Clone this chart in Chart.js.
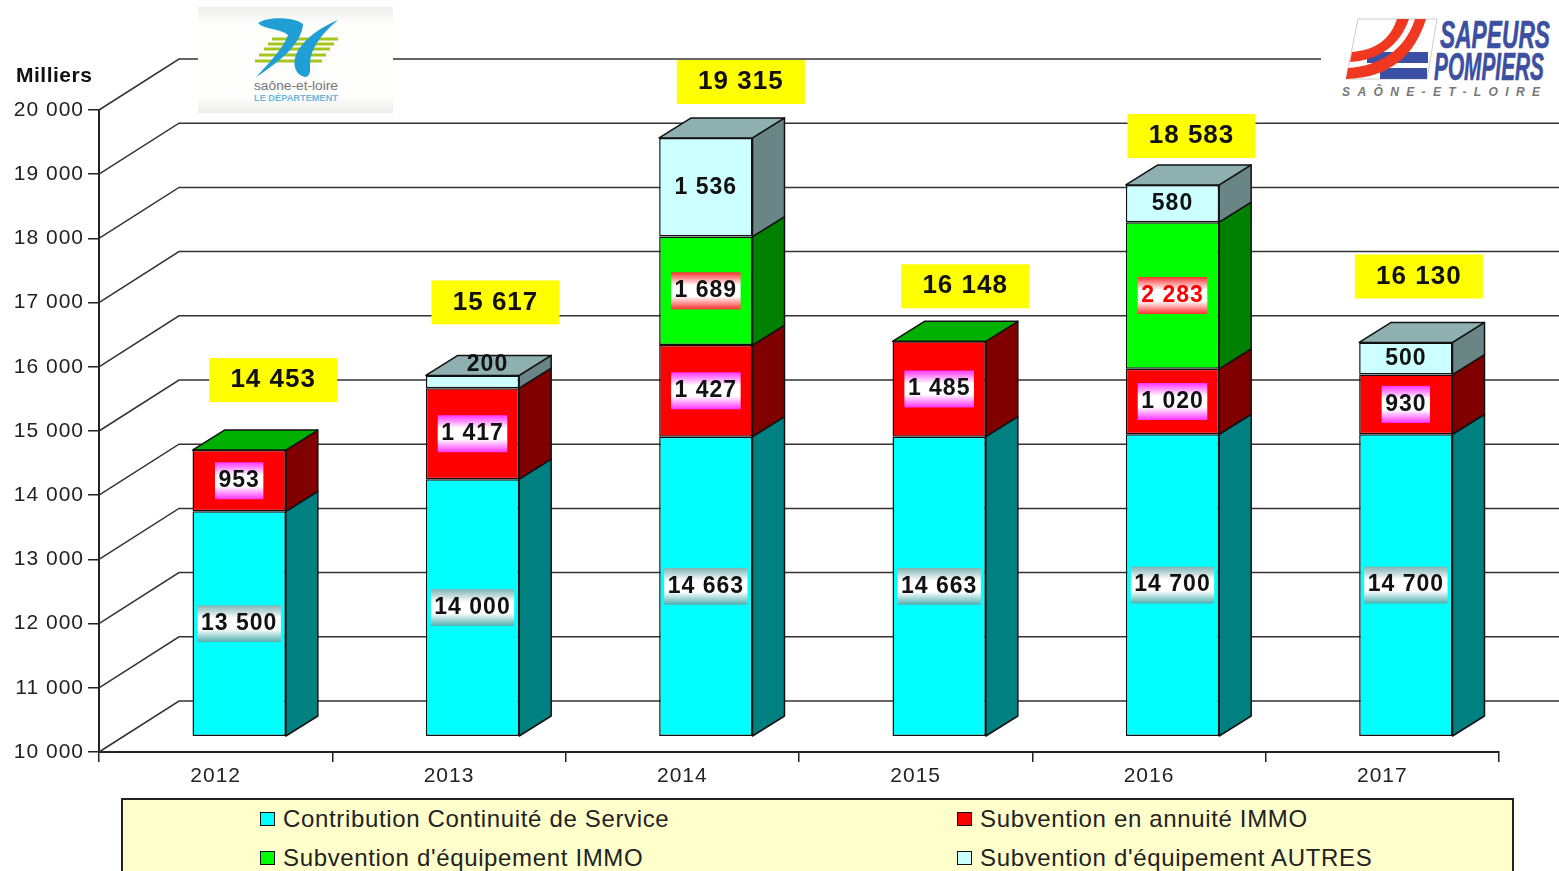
<!DOCTYPE html>
<html>
<head>
<meta charset="utf-8">
<title>Contributions et subventions 2012-2017</title>
<script src="https://cdn.jsdelivr.net/npm/chart.js@4"></script>
<style>
    body { margin: 0; background: #fff; overflow: hidden; width: 1559px; height: 871px; position: relative; font-family: "Liberation Sans", Arial, sans-serif; }
    canvas { position: absolute; left: 0; top: 0; }
    svg { position: absolute; left: 0; top: 0; }
    #legend { position: absolute; left: 121px; top: 798px; width: 1393px; height: 90px; box-sizing: border-box; background: #ffffcc; border: 2px solid #222; }
    .item { position: absolute; font-size: 24px; letter-spacing: 0.65px; color: #222; line-height: 28px; white-space: nowrap; }
    .item i { position: absolute; left: -23px; top: 7px; width: 13px; height: 12px; border: 1.5px solid #111; }
</style>
</head>
<body>
<canvas id="chart" width="1559" height="871"></canvas>

<svg width="1559" height="871" font-family="Liberation Sans, Arial, sans-serif">
    <defs>
        <linearGradient id="logoBg" x1="0" y1="0" x2="0" y2="1">
            <stop offset="0" stop-color="#eeeeea"/>
            <stop offset="0.15" stop-color="#fdfdfc"/>
            <stop offset="0.85" stop-color="#fdfdfc"/>
            <stop offset="1" stop-color="#ecece8"/>
        </linearGradient>
    </defs>
    <rect x="198" y="7" width="195" height="106" fill="url(#logoBg)"/>
    <g stroke="#a6c61c" stroke-width="3">
        <line x1="272" y1="39" x2="338" y2="39"/>
        <line x1="268" y1="44" x2="334" y2="44"/>
        <line x1="264" y1="49" x2="330" y2="49"/>
        <line x1="259" y1="55" x2="326" y2="55"/>
        <line x1="255" y1="61" x2="322" y2="61"/>
    </g>
    <path d="M258 23 C268 16 295 17 303 24 C302 45 275 65 256 77 C272 60 285 45 288 35 C280 28 264 30 258 23 Z" fill="#1f9fd6"/>
    <path d="M338 20 C320 35 310 50 310 64 C310 70 311 75 306 77 C296 76 292 65 296 55 C303 38 325 25 338 20 Z" fill="#1f9fd6"/>
    <text x="254" y="90" font-size="12" fill="#777" textLength="84" lengthAdjust="spacingAndGlyphs">saône-et-loire</text>
    <text x="254" y="101" font-size="9" font-weight="bold" fill="#6db7dc" textLength="84" lengthAdjust="spacingAndGlyphs">LE DÉPARTEMENT</text>

    <rect x="1321" y="0" width="238" height="112" fill="#fff"/>
    <path d="M1358 19 L1437 19 L1427 79 L1346 79 Z" fill="#fff" stroke="#ccc" stroke-width="1"/>
    <rect x="1367" y="52" width="61" height="11" fill="#3b50a4"/>
    <rect x="1380" y="68" width="47" height="11" fill="#3b50a4"/>
    <path d="M1397 19 L1409 19 C1400 45 1380 60 1350 62 L1352 52 C1375 50 1390 40 1397 19 Z" fill="#f0371f"/>
    <path d="M1415 19 L1426 19 C1415 55 1390 78 1346 79 L1348 68 C1380 66 1405 50 1415 19 Z" fill="#f0371f"/>
    <text x="1440" y="48" font-family="Liberation Sans Narrow, Liberation Sans, sans-serif" font-size="38" font-weight="bold" font-style="italic" fill="#3d4fa0" stroke="#3d4fa0" stroke-width="0.6" textLength="110" lengthAdjust="spacingAndGlyphs">SAPEURS</text>
    <text x="1434" y="80" font-family="Liberation Sans Narrow, Liberation Sans, sans-serif" font-size="38" font-weight="bold" font-style="italic" fill="#3d4fa0" stroke="#3d4fa0" stroke-width="0.6" textLength="110" lengthAdjust="spacingAndGlyphs">POMPIERS</text>
    <text x="1342" y="96" font-size="12" font-style="italic" font-weight="bold" fill="#777" textLength="198">SAÔNE-ET-LOIRE</text>
</svg>

<div id="legend"></div>

<script>
const years = ["2012", "2013", "2014", "2015", "2016", "2017"];
const contribution = [13500, 14000, 14663, 14663, 14700, 14700];
const annuite = [953, 1417, 1427, 1485, 1020, 930];
const equipImmo = [0, 0, 1689, 0, 2283, 0];
const equipAutres = [0, 200, 1536, 0, 580, 500];
const totals = [14453, 15617, 19315, 16148, 18583, 16130];
const yTicks = [10000, 11000, 12000, 13000, 14000, 15000, 16000, 17000, 18000, 19000, 20000];

const seriesNames = ["Contribution Continuité de Service", "Subvention en annuité IMMO", "Subvention d'équipement IMMO", "Subvention d'équipement AUTRES"];
const frontColors = ["#00ffff", "#ff0000", "#00ff00", "#ccffff"];
const sideColors = ["#008080", "#800000", "#008000", "#6a8585"];
const topColors = ["#00b0b0", "#b00000", "#00b000", "#8fb0b0"];
const labelEdges = [["#7fb3b3", "#4fb0b0"], ["#ff33ff", "#ff33ff"], ["#ff3030", "#ff3030"], null];

// offset of each yellow total box from the top front centre of its bar
const totalOffsets = [[34, -70], [23, -73], [35, -56], [26, -55], [19, -49], [13, -66]];

// how far the wall and the bars sit behind the front axes
const wallDx = 80, wallDy = 51;
const barDx = 23.5, barDy = 16;
const sideDx = 32, sideDy = 20;

function fmt(v) {
    return String(v).replace(/\B(?=(\d{3})+$)/g, " ");
}

const depthPlugin = {
    id: "depth",
    afterLayout(chart) {
        // slide the hidden bar axes back into the box
        const xb = chart.scales.xBar, yb = chart.scales.yBar;
        xb.left += barDx; xb.right += barDx; xb.configure();
        yb.top -= barDy; yb.bottom -= barDy; yb.configure();
    },
    beforeDraw(chart) {
        chart.ctx.letterSpacing = "1px";
    },
    beforeDatasetsDraw(chart) {
        const ctx = chart.ctx, y = chart.scales.y, x = chart.scales.x;
        ctx.save();
        ctx.strokeStyle = "#333";
        ctx.lineWidth = 1.5;
        yTicks.forEach(t => {
            const py = y.getPixelForValue(t);
            ctx.beginPath();
            ctx.moveTo(x.left, py);
            ctx.lineTo(x.left + wallDx, py - wallDy);
            ctx.lineTo(chart.width, py - wallDy);
            ctx.stroke();
        });
        ctx.restore();
    },
    afterDatasetsDraw(chart) {
        const ctx = chart.ctx;
        ctx.save();
        ctx.strokeStyle = "#111";
        ctx.lineWidth = 1.5;
        ctx.lineJoin = "round";
        years.forEach((yr, i) => {
            let topSeries = 0;
            chart.data.datasets.forEach((ds, d) => {
                const bar = chart.getDatasetMeta(d).data[i];
                if (ds.data[i] > 0) {
                    topSeries = d;
                } else if (d === 2 && chart.data.datasets[3].data[i] === 0) {
                    topSeries = 2; // empty IMMO still colours the lid
                }
                if (ds.data[i] === 0) return;
                const r = bar.x + bar.width / 2;
                ctx.fillStyle = sideColors[d];
                ctx.beginPath();
                ctx.moveTo(r, bar.y);
                ctx.lineTo(r + sideDx, bar.y - sideDy);
                ctx.lineTo(r + sideDx, bar.base - sideDy);
                ctx.lineTo(r, bar.base);
                ctx.closePath();
                ctx.fill();
                ctx.stroke();
            });
            const lid = chart.getDatasetMeta(3).data[i];
            const l = lid.x - lid.width / 2, r = lid.x + lid.width / 2;
            ctx.fillStyle = topColors[topSeries];
            ctx.beginPath();
            ctx.moveTo(l, lid.y);
            ctx.lineTo(l + sideDx, lid.y - sideDy);
            ctx.lineTo(r + sideDx, lid.y - sideDy);
            ctx.lineTo(r, lid.y);
            ctx.closePath();
            ctx.fill();
            ctx.stroke();
        });
        ctx.restore();
        drawLabels(chart);
    }
};

function drawLabels(chart) {
    const ctx = chart.ctx;
    ctx.save();
    ctx.textAlign = "center";
    ctx.textBaseline = "middle";
    chart.data.datasets.forEach((ds, d) => {
        ds.data.forEach((v, i) => {
            if (v === 0) return;
            const bar = chart.getDatasetMeta(d).data[i];
            let cx = bar.x, cy = (bar.y + bar.base) / 2;
            const thin = Math.abs(bar.base - bar.y) < 25;
            if (thin) { cx += 15; cy -= 17; }
            const txt = fmt(v);
            ctx.font = "bold 23px 'Liberation Sans', Arial, sans-serif";
            ctx.letterSpacing = "1px";
            const w = ctx.measureText(txt).width + 7, h = 37;
            if (labelEdges[d]) {
                const g = ctx.createLinearGradient(0, cy - h / 2, 0, cy + h / 2);
                g.addColorStop(0, labelEdges[d][0]);
                g.addColorStop(0.35, "#ffffff");
                g.addColorStop(0.65, "#ffffff");
                g.addColorStop(1, labelEdges[d][1]);
                ctx.fillStyle = g;
                ctx.fillRect(cx - w / 2, cy - h / 2, w, h);
            }
            ctx.fillStyle = (d === 2 && v > 2000) ? "#ff0000" : "#111";
            ctx.fillText(txt, cx, cy);
        });
    });
    totals.forEach((t, i) => {
        const bar = chart.getDatasetMeta(3).data[i];
        const cx = bar.x + totalOffsets[i][0], cy = bar.y + totalOffsets[i][1];
        ctx.fillStyle = "#ffff00";
        ctx.fillRect(cx - 64, cy - 22, 128, 44);
        ctx.fillStyle = "#111";
        ctx.font = "bold 26px 'Liberation Sans', Arial, sans-serif";
        ctx.letterSpacing = "1px";
        ctx.fillText(fmt(t), cx, cy);
    });
    ctx.textAlign = "left";
    ctx.font = "bold 21px 'Liberation Sans', Arial, sans-serif";
    ctx.letterSpacing = "0.5px";
    ctx.fillText("Milliers", 16, 76);
    ctx.restore();
}

const seriesData = [contribution, annuite, equipImmo, equipAutres];

const chart = new Chart(document.getElementById("chart"), {
    type: "bar",
    data: {
        labels: years,
        datasets: seriesData.map((values, d) => ({
            label: seriesNames[d],
            data: values,
            backgroundColor: frontColors[d],
            borderColor: "#111",
            borderWidth: 1.5,
            borderSkipped: false,
            categoryPercentage: 1,
            barPercentage: 0.4,
            xAxisID: "xBar",
            yAxisID: "yBar",
            clip: false,
            base: d === 0 ? 10000 : undefined
        }))
    },
    options: {
        responsive: false,
        animation: false,
        layout: { padding: { left: 0, right: 60, top: 110, bottom: 59 } },
        plugins: { legend: { display: false }, tooltip: { enabled: false } },
        scales: {
            x: {
                type: "category",
                grid: { display: true, drawOnChartArea: false, offset: true, color: "#222", lineWidth: 1.5, tickLength: 10 },
                border: { color: "#222", width: 2 },
                ticks: { color: "#222", font: { family: "'Liberation Sans', Arial, sans-serif", size: 21 }, padding: 2, maxRotation: 0 },
                afterFit(s) { s.height = 60; }
            },
            y: {
                min: 10000,
                max: 20000,
                afterBuildTicks(s) { s.ticks = yTicks.map(v => ({ value: v })); },
                grid: { drawOnChartArea: false, color: "#222", lineWidth: 1.5, tickLength: 11 },
                border: { color: "#222", width: 2 },
                ticks: { color: "#222", font: { family: "'Liberation Sans', Arial, sans-serif", size: 21 }, padding: 4, callback: v => fmt(v) },
                afterFit(s) { s.width = 99; }
            },
            xBar: { type: "category", axis: "x", display: false, stacked: true, grid: { offset: true } },
            yBar: { type: "linear", axis: "y", display: false, stacked: true, min: 10000, max: 20000 }
        }
    },
    plugins: [depthPlugin]
});

// legend box, two columns, filled row by row
const legendBox = document.getElementById("legend");
chart.data.datasets.forEach((ds, d) => {
    const item = document.createElement("div");
    item.className = "item";
    item.style.left = (d % 2 === 0 ? 160 : 857) + "px";
    item.style.top = (d < 2 ? 5 : 44) + "px";
    item.textContent = ds.label;
    const swatch = document.createElement("i");
    swatch.style.background = ds.backgroundColor;
    item.appendChild(swatch);
    legendBox.appendChild(item);
});
</script>
</body>
</html>
